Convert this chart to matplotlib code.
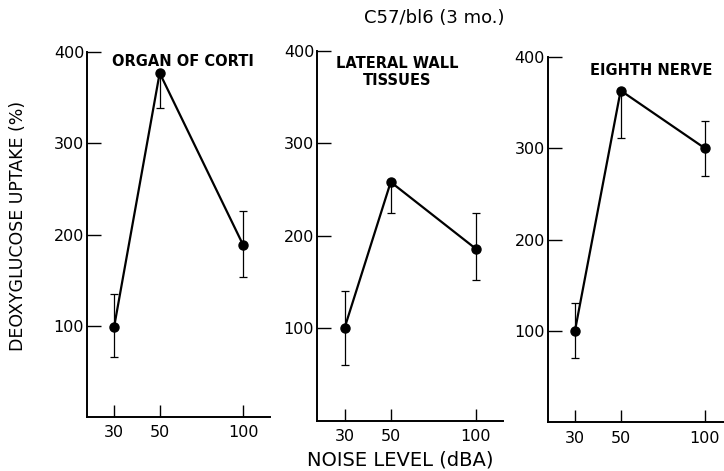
import matplotlib
matplotlib.use("Agg")
import matplotlib.pyplot as plt
import numpy as np

plt.rcParams["font.family"] = ["DejaVu Sans"]

noise_levels = [30, 50, 100]

corti_uptake = [99, 377, 188]
corti_err_low = [33, 38, 35]
corti_err_high = [36, 0, 38]

lateral_uptake = [100, 258, 186]
lateral_err_low = [40, 34, 34]
lateral_err_high = [40, 0, 39]

nerve_uptake = [100, 363, 300]
nerve_err_low = [30, 52, 31]
nerve_err_high = [30, 0, 30]

panel_titles = ["ORGAN OF CORTI", "LATERAL WALL\nTISSUES", "EIGHTH NERVE"]
y_ticks = [100, 200, 300, 400]

# axes rectangles in figure fraction (left, bottom, width, height)
AXES_RECTS = [
    (0.1202, 0.1146, 0.2527, 0.7750),
    (0.4378, 0.1068, 0.2565, 0.7856),
    (0.7565, 0.1034, 0.2537, 0.7762),
]
TITLE_POS = [(0.525, 0.995), (0.432, 0.985), (0.562, 0.983)]


def draw_panel(ax, values, err_low, err_high, label, title_xy):
    ax.set_xscale("function", functions=(np.sqrt, np.square))
    ax.errorbar(
        noise_levels,
        values,
        yerr=[err_low, err_high],
        fmt="none",
        ecolor="black",
        elinewidth=0.9,
        capsize=3,
        capthick=0.9,
    )
    ax.plot(noise_levels, values, color="black", linewidth=1.6,
            marker="o", markersize=6.5)

    ax.set_xlim(20.5, 119.5)
    ax.set_ylim(0, 400)
    ax.set_xticks(noise_levels)
    ax.set_xticklabels([str(v) for v in noise_levels])
    ax.set_yticks(y_ticks)
    ax.minorticks_off()

    for side in ("top", "right"):
        ax.spines[side].set_visible(False)
    for side in ("left", "bottom"):
        ax.spines[side].set_linewidth(1.4)

    ax.tick_params(axis="y", direction="in", length=10, width=1.0,
                   labelsize=11.5, pad=2)
    ax.tick_params(axis="x", direction="in", length=9, width=1.0,
                   labelsize=11.5, pad=6)

    ax.text(title_xy[0], title_xy[1], label, transform=ax.transAxes,
            ha="center", va="top", fontsize=10.5, fontweight="bold",
            linespacing=1.15)


fig = plt.figure(figsize=(7.24, 4.71), dpi=100)

series = [
    (corti_uptake, corti_err_low, corti_err_high),
    (lateral_uptake, lateral_err_low, lateral_err_high),
    (nerve_uptake, nerve_err_low, nerve_err_high),
]
for rect, (vals, lo, hi), label, pos in zip(AXES_RECTS, series, panel_titles, TITLE_POS):
    ax = fig.add_axes(rect)
    draw_panel(ax, vals, lo, hi, label, pos)

fig.text(0.60, 0.962, "C57/bl6 (3 mo.)", ha="center", va="center", fontsize=13)
fig.text(0.553, 0.023, "NOISE LEVEL (dBA)", ha="center", va="center", fontsize=14)
fig.text(0.025, 0.52, "DEOXYGLUCOSE UPTAKE (%)", ha="center", va="center",
         rotation=90, fontsize=12.5)

fig.savefig("out.png", dpi=100)
